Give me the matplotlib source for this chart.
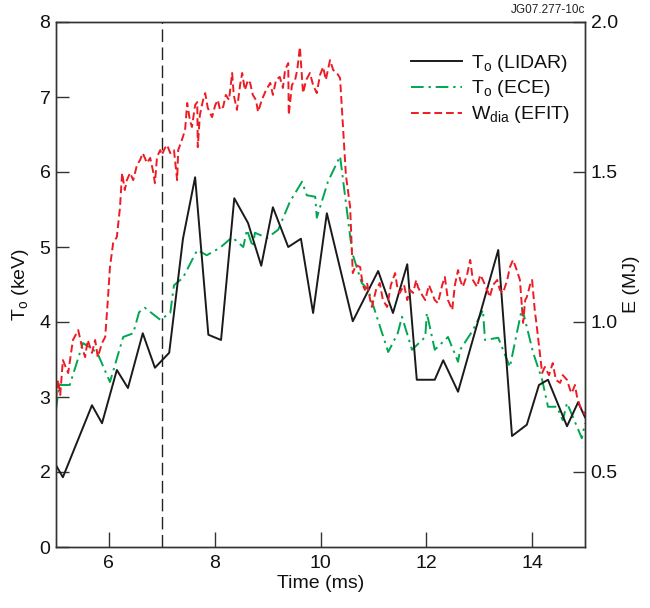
import matplotlib
matplotlib.use("Agg")
import matplotlib.pyplot as plt

plt.rcParams['font.family'] = ['Liberation Sans', 'DejaVu Sans']
plt.rcParams['mathtext.fontset'] = 'custom'
plt.rcParams['mathtext.rm'] = 'Liberation Sans'

# T_o (LIDAR) [keV]
lidar_t = [5.00, 5.13, 5.68, 5.87, 6.15, 6.36, 6.64, 6.87, 7.14, 7.40, 7.63, 7.88, 8.12,
           8.37, 8.63, 8.88, 9.10, 9.39, 9.63, 9.86, 10.12, 10.61, 11.09, 11.37, 11.64,
           11.82, 12.16, 12.32, 12.60, 13.36, 13.62, 13.90, 14.13, 14.30, 14.66, 14.87, 15.00]
lidar_T = [2.09, 1.93, 2.89, 2.65, 3.36, 3.12, 3.85, 3.39, 3.59, 5.11, 5.93, 3.83, 3.76,
           5.65, 5.32, 4.75, 5.53, 5.00, 5.11, 4.12, 5.45, 4.01, 4.68, 4.12, 4.77,
           3.23, 3.23, 3.49, 3.07, 4.96, 2.48, 2.63, 3.16, 3.23, 2.61, 2.93, 2.73]

# T_o (ECE) [keV]
ece_t = [5.00, 5.06, 5.26, 5.51, 5.78, 6.02, 6.27, 6.46, 6.57, 6.68, 6.97, 7.16, 7.23, 7.40,
         7.67, 7.85, 8.10, 8.33, 8.54, 8.61, 8.72, 8.76, 8.99, 9.20, 9.42, 9.65, 9.74, 9.90,
         9.93, 10.14, 10.37, 10.60, 10.78, 10.90, 11.28, 11.46, 11.54, 11.73, 11.98, 12.01,
         12.16, 12.41, 12.60, 12.64, 12.88, 13.07, 13.11, 13.36, 13.58, 13.81, 14.02, 14.19,
         14.30, 14.47, 14.58, 14.66, 14.94, 15.00]
ece_T = [2.83, 3.16, 3.16, 3.72, 3.59, 3.20, 3.80, 3.85, 4.13, 4.19, 4.03, 4.12, 4.49, 4.59,
         4.96, 4.89, 4.99, 5.13, 5.00, 5.23, 5.00, 5.19, 5.12, 5.23, 5.60, 5.87, 5.69, 5.67,
         5.39, 5.87, 6.21, 4.92, 4.52, 4.43, 3.60, 3.85, 4.07, 3.63, 3.80, 4.12,
         3.63, 3.80, 3.47, 3.63, 3.89, 4.16, 3.76, 3.79, 3.40, 4.19, 3.59, 3.23,
         2.87, 2.87, 2.69, 2.92, 2.45, 2.65]

# W_dia (EFIT) [MJ]
efit_t = [5.00, 5.04, 5.08, 5.13, 5.23, 5.32, 5.42, 5.49, 5.55, 5.60, 5.68, 5.74, 5.79, 5.87,
          5.93, 5.98, 6.02, 6.08, 6.15, 6.21, 6.25, 6.30, 6.34, 6.40, 6.46, 6.53, 6.59, 6.64,
          6.72, 6.78, 6.83, 6.87, 6.91, 6.97, 7.00, 7.06, 7.10, 7.16, 7.23, 7.29, 7.31, 7.38,
          7.44, 7.48, 7.53, 7.57, 7.63, 7.67, 7.68, 7.72, 7.78, 7.82, 7.87, 7.95, 8.01, 8.06,
          8.10, 8.16, 8.21, 8.27, 8.33, 8.36, 8.42, 8.48, 8.52, 8.57, 8.63, 8.67, 8.72, 8.78,
          8.82, 8.89, 8.97, 9.05, 9.10, 9.16, 9.23, 9.29, 9.33, 9.39, 9.40, 9.46, 9.52, 9.56,
          9.61, 9.67, 9.73, 9.80, 9.86, 9.93, 9.99, 10.05, 10.10, 10.18, 10.24, 10.31, 10.37,
          10.43, 10.48, 10.56, 10.61, 10.67, 10.75, 10.80, 10.84, 10.88, 10.94, 10.97, 11.05,
          11.12, 11.18, 11.26, 11.33, 11.41, 11.46, 11.50, 11.58, 11.64, 11.69, 11.75, 11.81,
          11.84, 11.92, 11.98, 12.05, 12.11, 12.16, 12.22, 12.30, 12.35, 12.41, 12.49, 12.54,
          12.60, 12.64, 12.69, 12.77, 12.83, 12.88, 12.96, 13.02, 13.07, 13.15, 13.20, 13.26,
          13.34, 13.39, 13.45, 13.53, 13.58, 13.64, 13.71, 13.77, 13.83, 13.87, 13.90, 13.96,
          14.00, 14.05, 14.09, 14.15, 14.19, 14.24, 14.32, 14.39, 14.45, 14.53, 14.58, 14.66,
          14.72, 14.75, 14.81, 14.85, 14.91, 14.96, 15.00]
efit_E = [0.740, 0.807, 0.757, 0.873, 0.830, 0.940, 0.973, 0.917, 0.883, 0.940, 0.897, 0.940,
          0.883, 0.930, 0.950, 1.073, 1.183, 1.263, 1.283, 1.383, 1.497, 1.440, 1.473, 1.497,
          1.473, 1.523, 1.540, 1.563, 1.530, 1.547, 1.507, 1.463, 1.550, 1.573, 1.557, 1.580,
          1.590, 1.563, 1.573, 1.473, 1.573, 1.607, 1.640, 1.730, 1.673, 1.650, 1.723, 1.733,
          1.583, 1.690, 1.740, 1.763, 1.713, 1.683, 1.723, 1.740, 1.707, 1.717, 1.757, 1.740,
          1.830, 1.757, 1.707, 1.790, 1.830, 1.773, 1.807, 1.797, 1.757, 1.740, 1.700, 1.740,
          1.773, 1.797, 1.757, 1.807, 1.817, 1.780, 1.840, 1.863, 1.690, 1.790, 1.807, 1.840,
          1.917, 1.763, 1.807, 1.830, 1.790, 1.763, 1.823, 1.850, 1.807, 1.873, 1.840, 1.830,
          1.813, 1.640, 1.490, 1.383, 1.163, 1.190, 1.183, 1.123, 1.107, 1.130, 1.073, 1.050,
          1.107, 1.130, 1.073, 1.050, 1.123, 1.163, 1.107, 1.097, 1.123, 1.073, 1.107, 1.097,
          1.140, 1.117, 1.090, 1.073, 1.123, 1.097, 1.073, 1.063, 1.123, 1.150, 1.073, 1.040,
          1.123, 1.173, 1.140, 1.117, 1.157, 1.207, 1.140, 1.117, 1.157, 1.140, 1.107, 1.083,
          1.123, 1.140, 1.107, 1.097, 1.140, 1.183, 1.207, 1.173, 1.140, 0.997, 1.073, 1.083,
          1.123, 1.140, 1.040, 0.983, 0.890, 0.830, 0.850, 0.823, 0.863, 0.807, 0.797,
          0.823, 0.807, 0.773, 0.763, 0.790, 0.750, 0.717, 0.707, 0.690]

left_ticks = [1, 2, 3, 4, 5, 6, 7, 8]
left_labels = ['0', '2', '3', '4', '5', '6', '7', '8']
right_ticks = [0.5, 1.0, 1.5, 2.0]
right_labels = ['0.5', '1.0', '1.5', '2.0']
x_ticks = [6, 8, 10, 12, 14]

black = '#1a1a1a'
green = '#00a651'
red = '#ed1c24'
spine_c = '#333333'

fig = plt.figure(figsize=(6.5, 6.08), dpi=100)
ax = fig.add_axes([56/650, 61/608, 529/650, 525/608])
ax2 = ax.twinx()

ax.set_xlim(5, 15)
ax.set_ylim(1, 8)
ax2.set_ylim(0.25, 2.0)

ax.axvline(7, color='#222222', lw=1.0, dashes=(9, 4), zorder=1)

l1, = ax.plot(lidar_t, lidar_T, color=black, lw=1.4, zorder=3)
l2, = ax.plot(ece_t, ece_T, color=green, lw=1.4, dashes=(6.5, 2.5, 1.2, 2.5), zorder=2)
l3, = ax2.plot(efit_t, efit_E, color=red, lw=1.4, dashes=(4, 2), zorder=2)

ax.set_xticks(x_ticks)
ax.set_yticks(left_ticks)
ax.set_yticklabels(left_labels)
ax2.set_yticks(right_ticks)
ax2.set_yticklabels(right_labels)

ax.tick_params(axis='x', direction='in', length=11, width=1.0, labelsize=14, pad=6, colors=spine_c, labelcolor='#111111')
ax.tick_params(axis='y', direction='in', length=9, width=1.0, labelsize=14, pad=4, colors=spine_c, labelcolor='#111111')
ax2.tick_params(axis='y', direction='in', length=9, width=1.0, labelsize=14, pad=4, colors=spine_c, labelcolor='#111111')

for a in (ax, ax2):
    for s in a.spines.values():
        s.set_color(spine_c)
        s.set_linewidth(1.0)

ax.set_xlabel('Time (ms)', fontsize=14, labelpad=2, color='#111111')
ax.set_ylabel(r'T$_\mathregular{o}$ (keV)', fontsize=14, labelpad=6, color='#111111')
ax2.set_ylabel('E (MJ)', fontsize=14, labelpad=4, color='#111111')

leg = ax.legend([l1, l2, l3],
                [r'T$_\mathregular{o}$ (LIDAR)', r'T$_\mathregular{o}$ (ECE)', r'W$_\mathregular{dia}$ (EFIT)'],
                loc='upper right', bbox_to_anchor=(1.005, 0.975), frameon=False,
                fontsize=14, handlelength=2.6, handletextpad=0.5, labelspacing=0.25)
for t in leg.get_texts():
    t.set_color('#111111')

fig.text(585/650, 1 - 10/608, 'JG07.277-10c', fontsize=8.5, ha='right', va='center', color='#222222')

fig.savefig('out.png', dpi=100)
